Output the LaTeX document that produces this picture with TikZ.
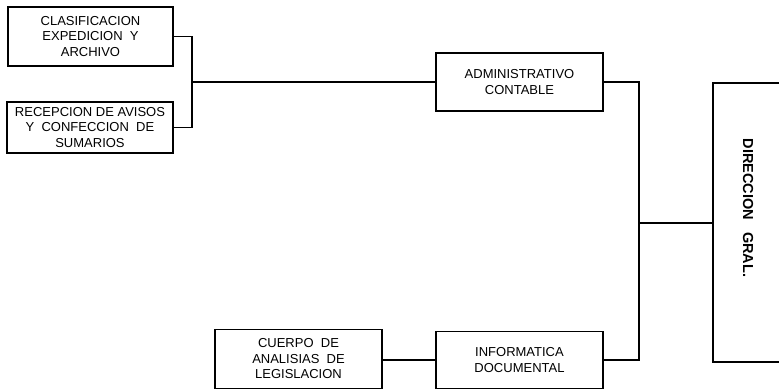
\documentclass[tikz,border=0pt]{standalone}
\usepackage{fontspec}
\setmainfont{Liberation Sans}
\begin{document}
\begin{tikzpicture}[x=1pt,y=-1pt,
  orgbox/.style={draw, line width=1.6pt, inner sep=0pt, align=center,
    font=\fontsize{13}{15.5}\selectfont},
  conn/.style={line width=1.2pt}]
\useasboundingbox (0,0) rectangle (779,390);
\clip (0,0) rectangle (779,390);
\fill[white] (0,0) rectangle (779,390);
% boxes
\node[orgbox, minimum width=165pt, minimum height=59pt] (clas) at (90.5,36.5)
  {CLASIFICACION\\EXPEDICION~~Y\\ARCHIVO};
\node[orgbox, minimum width=166pt, minimum height=51pt] (rece) at (90,127.5)
  {RECEPCION DE AVISOS\\Y~~CONFECCION~~DE\\SUMARIOS};
\node[orgbox, minimum width=167pt, minimum height=58pt] (adm) at (519.5,82)
  {ADMINISTRATIVO\\CONTABLE};
\node[orgbox, minimum width=167pt, minimum height=57pt] (inf) at (519.5,360)
  {INFORMATICA\\DOCUMENTAL};
\node[orgbox, minimum width=167pt, minimum height=59pt] (cue) at (298.5,359)
  {CUERPO~~DE\\ANALISIAS~~DE\\LEGISLACION};
% direccion box (right side cut off by the page edge)
\node[draw=none, minimum width=90pt, minimum height=279pt, inner sep=0pt] (dir) at (758,222.5) {};
\draw[line width=2pt] (dir.north east) -- (dir.north west) -- (dir.south west) -- (dir.south east);
\node[rotate=-90, font=\fontsize{14.5}{16}\bfseries\selectfont] (dirt) at (748,208) {DIRECCION~~~GRAL.};
% connectors
\coordinate (j1) at (192,82);
\coordinate (j2) at (639,223);
\draw[conn] (clas.east) -| (j1) |- (rece.east);
\draw[conn] (j1) -- (adm.west);
\draw[conn] (adm.east) -| (j2) |- (inf.east);
\draw[conn] (j2) -- (dir.west |- j2);
\draw[conn] (cue.east |- inf.west) -- (inf.west);
\end{tikzpicture}
\end{document}
